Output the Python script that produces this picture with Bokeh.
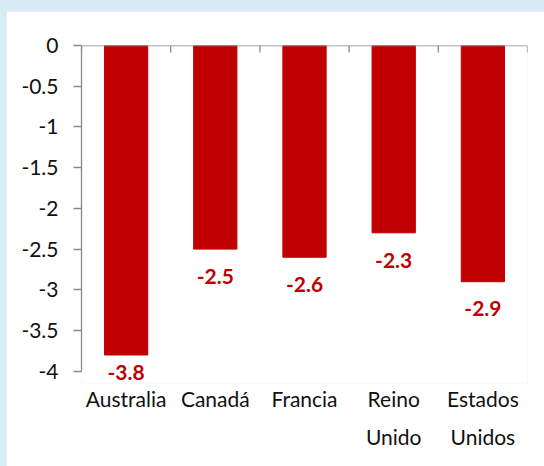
from bokeh.plotting import figure
from bokeh.layouts import column
from bokeh.models import (Range1d, FixedTicker, ColumnDataSource, LabelSet,
                          Span, LinearAxis)
from bokeh.core.properties import value
from bokeh.embed import file_html
from bokeh.resources import INLINE

# Data
countries = ["Australia", "Canadá", "Francia", "Reino Unido", "Estados Unidos"]
values = [-3.8, -2.5, -2.6, -2.3, -2.9]
y_ticks = [0, -0.5, -1, -1.5, -2, -2.5, -3, -3.5, -4]
y_tick_labels = ["0", "-0.5", "-1", "-1.5", "-2", "-2.5", "-3", "-3.5", "-4"]

BAR_RED = "#C00000"
AXIS_GREY = "#8a8a8a"
TEXT_COLOR = "#111111"
FONT = "Lato"

# plot geometry
FIG_W, FIG_H = 538, 455
BORDER_L, BORDER_R, BORDER_T = 75, 17, 34
PX_PER_UNIT = 81.5
Y_MIN = -4.15                   # a little room for the lowest value label
TICK_PX = 7

n = len(countries)
centers = [i + 0.5 for i in range(n)]
frame_h = round(-Y_MIN * PX_PER_UNIT)

bars = ColumnDataSource(data=dict(
    x=centers,
    value=values,
    label_y=[max(v - 0.335, -4.02) for v in values],
    label=[f"{v:.1f}" for v in values],
))

# category names wrapped one word per line: first and second lines
words = [name.split(" ") for name in countries]
line1 = {c: w[0] for c, w in zip(centers, words)}
line2 = {c: w[1] for c, w in zip(centers, words) if len(w) > 1}

# separator ticks between categories, hanging below the zero line
seps = ColumnDataSource(data=dict(
    x=list(range(n + 1)),
    y0=[0] * (n + 1),
    y1=[-TICK_PX / PX_PER_UNIT] * (n + 1),
))

p = figure(
    width=FIG_W, height=FIG_H,
    x_range=Range1d(0, n), y_range=Range1d(Y_MIN, 0),
    output_backend="svg", toolbar_location=None,
    min_border_left=BORDER_L, min_border_right=BORDER_R,
    min_border_top=BORDER_T,
    min_border_bottom=FIG_H - BORDER_T - frame_h,
)
p.margin = (11, 0, 0, 6)
p.background_fill_color = "white"
p.border_fill_color = "white"
p.outline_line_color = None
p.xgrid.visible = False
p.ygrid.visible = False

p.vbar(x="x", top=0, bottom="value", width=0.485, source=bars,
       fill_color=BAR_RED, line_color=BAR_RED)

# zero line and category separators
p.add_layout(Span(location=0, dimension="width", line_color=AXIS_GREY,
                  line_width=1.3))
p.segment(x0="x", y0="y0", x1="x", y1="y1", source=seps,
          line_color=AXIS_GREY, line_width=1.3)

p.add_layout(LabelSet(x="x", y="label_y", text="label", source=bars,
                      text_align="center", text_baseline="middle",
                      text_font=value(FONT), text_font_style="bold",
                      text_font_size="21px", text_color=BAR_RED))


def style_category_axis(ax, ticks, labels, standoff):
    ax.ticker = FixedTicker(ticks=ticks)
    ax.major_label_overrides = labels
    ax.axis_line_color = None
    ax.major_tick_line_color = None
    ax.minor_tick_line_color = None
    ax.major_tick_in = 0
    ax.major_tick_out = 0
    ax.major_label_standoff = standoff
    ax.major_label_text_font = FONT
    ax.major_label_text_font_size = "21px"
    ax.major_label_text_color = TEXT_COLOR


style_category_axis(p.xaxis[0], list(line1), line1, 2)
second = LinearAxis()
style_category_axis(second, list(line2), line2, 10)
p.add_layout(second, "below")

ya = p.yaxis[0]
ya.bounds = (-4.0, 0.0)
ya.ticker = FixedTicker(ticks=y_ticks)
ya.major_label_overrides = {t: lab for t, lab in zip(y_ticks, y_tick_labels)}
ya.axis_line_color = AXIS_GREY
ya.axis_line_width = 1.3
ya.major_tick_line_color = AXIS_GREY
ya.major_tick_line_width = 1.3
ya.major_tick_out = 8
ya.major_tick_in = 0
ya.minor_tick_line_color = None
ya.major_label_standoff = 15
ya.major_label_text_font = FONT
ya.major_label_text_font_size = "21px"
ya.major_label_text_color = TEXT_COLOR

page = column(p, width=544, height=466,
              styles={"background-color": "#d8ecf6"})

open("out.html", "w").write(file_html(page, INLINE))
